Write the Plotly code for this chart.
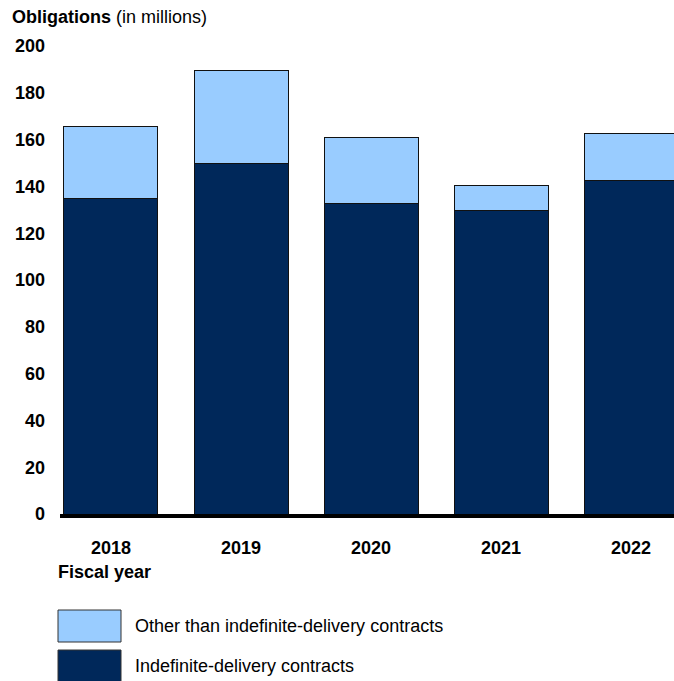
import plotly.graph_objects as go

years = ["2018", "2019", "2020", "2021", "2022"]
indefinite = [135.0, 149.6, 132.5, 129.5, 142.7]
other = [30.8, 40.1, 28.2, 11.1, 19.7]

dark = "#00285A"
light = "#99CCFF"
font = "Liberation Sans, Arial, sans-serif"

fig = go.Figure()
fig.add_trace(go.Bar(x=years, y=indefinite, name="Indefinite-delivery contracts",
                     marker=dict(color=dark, line=dict(color="#111111", width=1))))
fig.add_trace(go.Bar(x=years, y=other, name="Other than indefinite-delivery contracts",
                     marker=dict(color=light, line=dict(color="#111111", width=1))))

fig.update_layout(
    barmode="stack", bargap=0.277,
    width=674, height=681,
    margin=dict(l=60, r=0, t=46, b=167),
    plot_bgcolor="white", paper_bgcolor="white",
    showlegend=False,
    font=dict(family=font, color="black"),
)
fig.update_yaxes(range=[0, 200], dtick=20, showgrid=False, zeroline=False,
                 tickfont=dict(size=18, family=font, color="black", weight="bold"),
                 ticklabelstandoff=14, showline=False)
fig.update_xaxes(type="category", range=[-0.392, 4.33], showgrid=False,
                 tickfont=dict(size=18, family=font, color="black", weight="bold"),
                 showline=True, linecolor="black", linewidth=4,
                 ticklabelstandoff=14)

fig.add_annotation(xref="paper", yref="paper", x=(10 - 60) / 614, y=1 + 29/468, xanchor="left", yanchor="middle",
                   text="<b>Obligations</b> (in millions)", showarrow=False,
                   font=dict(size=18, family=font, color="black"))
fig.add_annotation(xref="paper", yref="paper", x=(56 - 60) / 614, y=-58/468, xanchor="left", yanchor="middle",
                   text="<b>Fiscal year</b>", showarrow=False,
                   font=dict(size=18, family=font, color="black"))

# legend swatches
legend_items = [("Other than indefinite-delivery contracts", light, 610, 642),
                ("Indefinite-delivery contracts", dark, 650, 682)]
for label, col, y0, y1 in legend_items:
    fig.add_shape(type="rect", xref="paper", yref="paper",
                  x0=(58 - 60) / 614, x1=(121 - 60) / 614,
                  y0=(514 - y1) / 468, y1=(514 - y0) / 468,
                  fillcolor=col, line=dict(color="#333333", width=1))
    fig.add_annotation(xref="paper", yref="paper", x=(133 - 60) / 614,
                       y=(514 - (y0 + y1) / 2) / 468, xanchor="left", yanchor="middle",
                       text=label, showarrow=False,
                       font=dict(size=18, family=font, color="black"))

fig.write_html("out.html")
